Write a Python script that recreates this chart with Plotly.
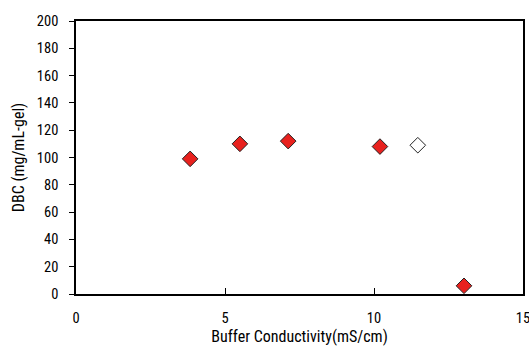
import plotly.graph_objects as go

# data
cond_filled = [3.83, 5.5, 7.12, 10.2, 13.02]
dbc_filled = [99, 110, 112, 108, 6]
cond_open = [11.47]
dbc_open = [109]
x_ticks = [0, 5, 10, 15]
y_ticks = [0, 20, 40, 60, 80, 100, 120, 140, 160, 180, 200]

FONT = "Liberation Sans Narrow, Arial Narrow, Roboto Condensed, sans-serif"

fig = go.Figure()
fig.add_trace(go.Scatter(
    x=cond_filled, y=dbc_filled, mode="markers",
    marker=dict(symbol="diamond", size=12, color="#E8211E",
                line=dict(color="#222222", width=1)),
    showlegend=False))
fig.add_trace(go.Scatter(
    x=cond_open, y=dbc_open, mode="markers",
    marker=dict(symbol="diamond", size=12, color="white",
                line=dict(color="#222222", width=1)),
    showlegend=False))

fig.update_layout(
    width=529, height=346,
    margin=dict(l=76, r=6, t=21, b=52, autoexpand=False),
    paper_bgcolor="white", plot_bgcolor="white",
    font=dict(family=FONT, size=14.5, color="black"),
    xaxis=dict(range=[0, 15], tickvals=x_ticks, ticks="inside", ticklen=6,
               tickcolor="black", showline=True, linecolor="black", linewidth=1.5,
               mirror=True, showgrid=False, zeroline=False,
               ticklabelstandoff=10, automargin=False, ticklabeloverflow="allow",
               title=dict(text="Buffer Conductivity(mS/cm)", standoff=6,
                          font=dict(family=FONT, size=16))),
    yaxis=dict(range=[0, 200], tickvals=y_ticks, ticks="outside", ticklen=5,
               tickcolor="black", showline=True, linecolor="black", linewidth=1.5,
               mirror=True, showgrid=False, zeroline=False,
               ticklabelstandoff=8, automargin=False, ticklabeloverflow="allow",
               title=dict(text="DBC (mg/mL-gel)", standoff=8,
                          font=dict(family=FONT, size=16))),
)

fig.write_html(
    "out.html",
    config={"displayModeBar": False},
    post_script="document.body.style.margin='0';document.body.style.overflow='hidden';",
)
